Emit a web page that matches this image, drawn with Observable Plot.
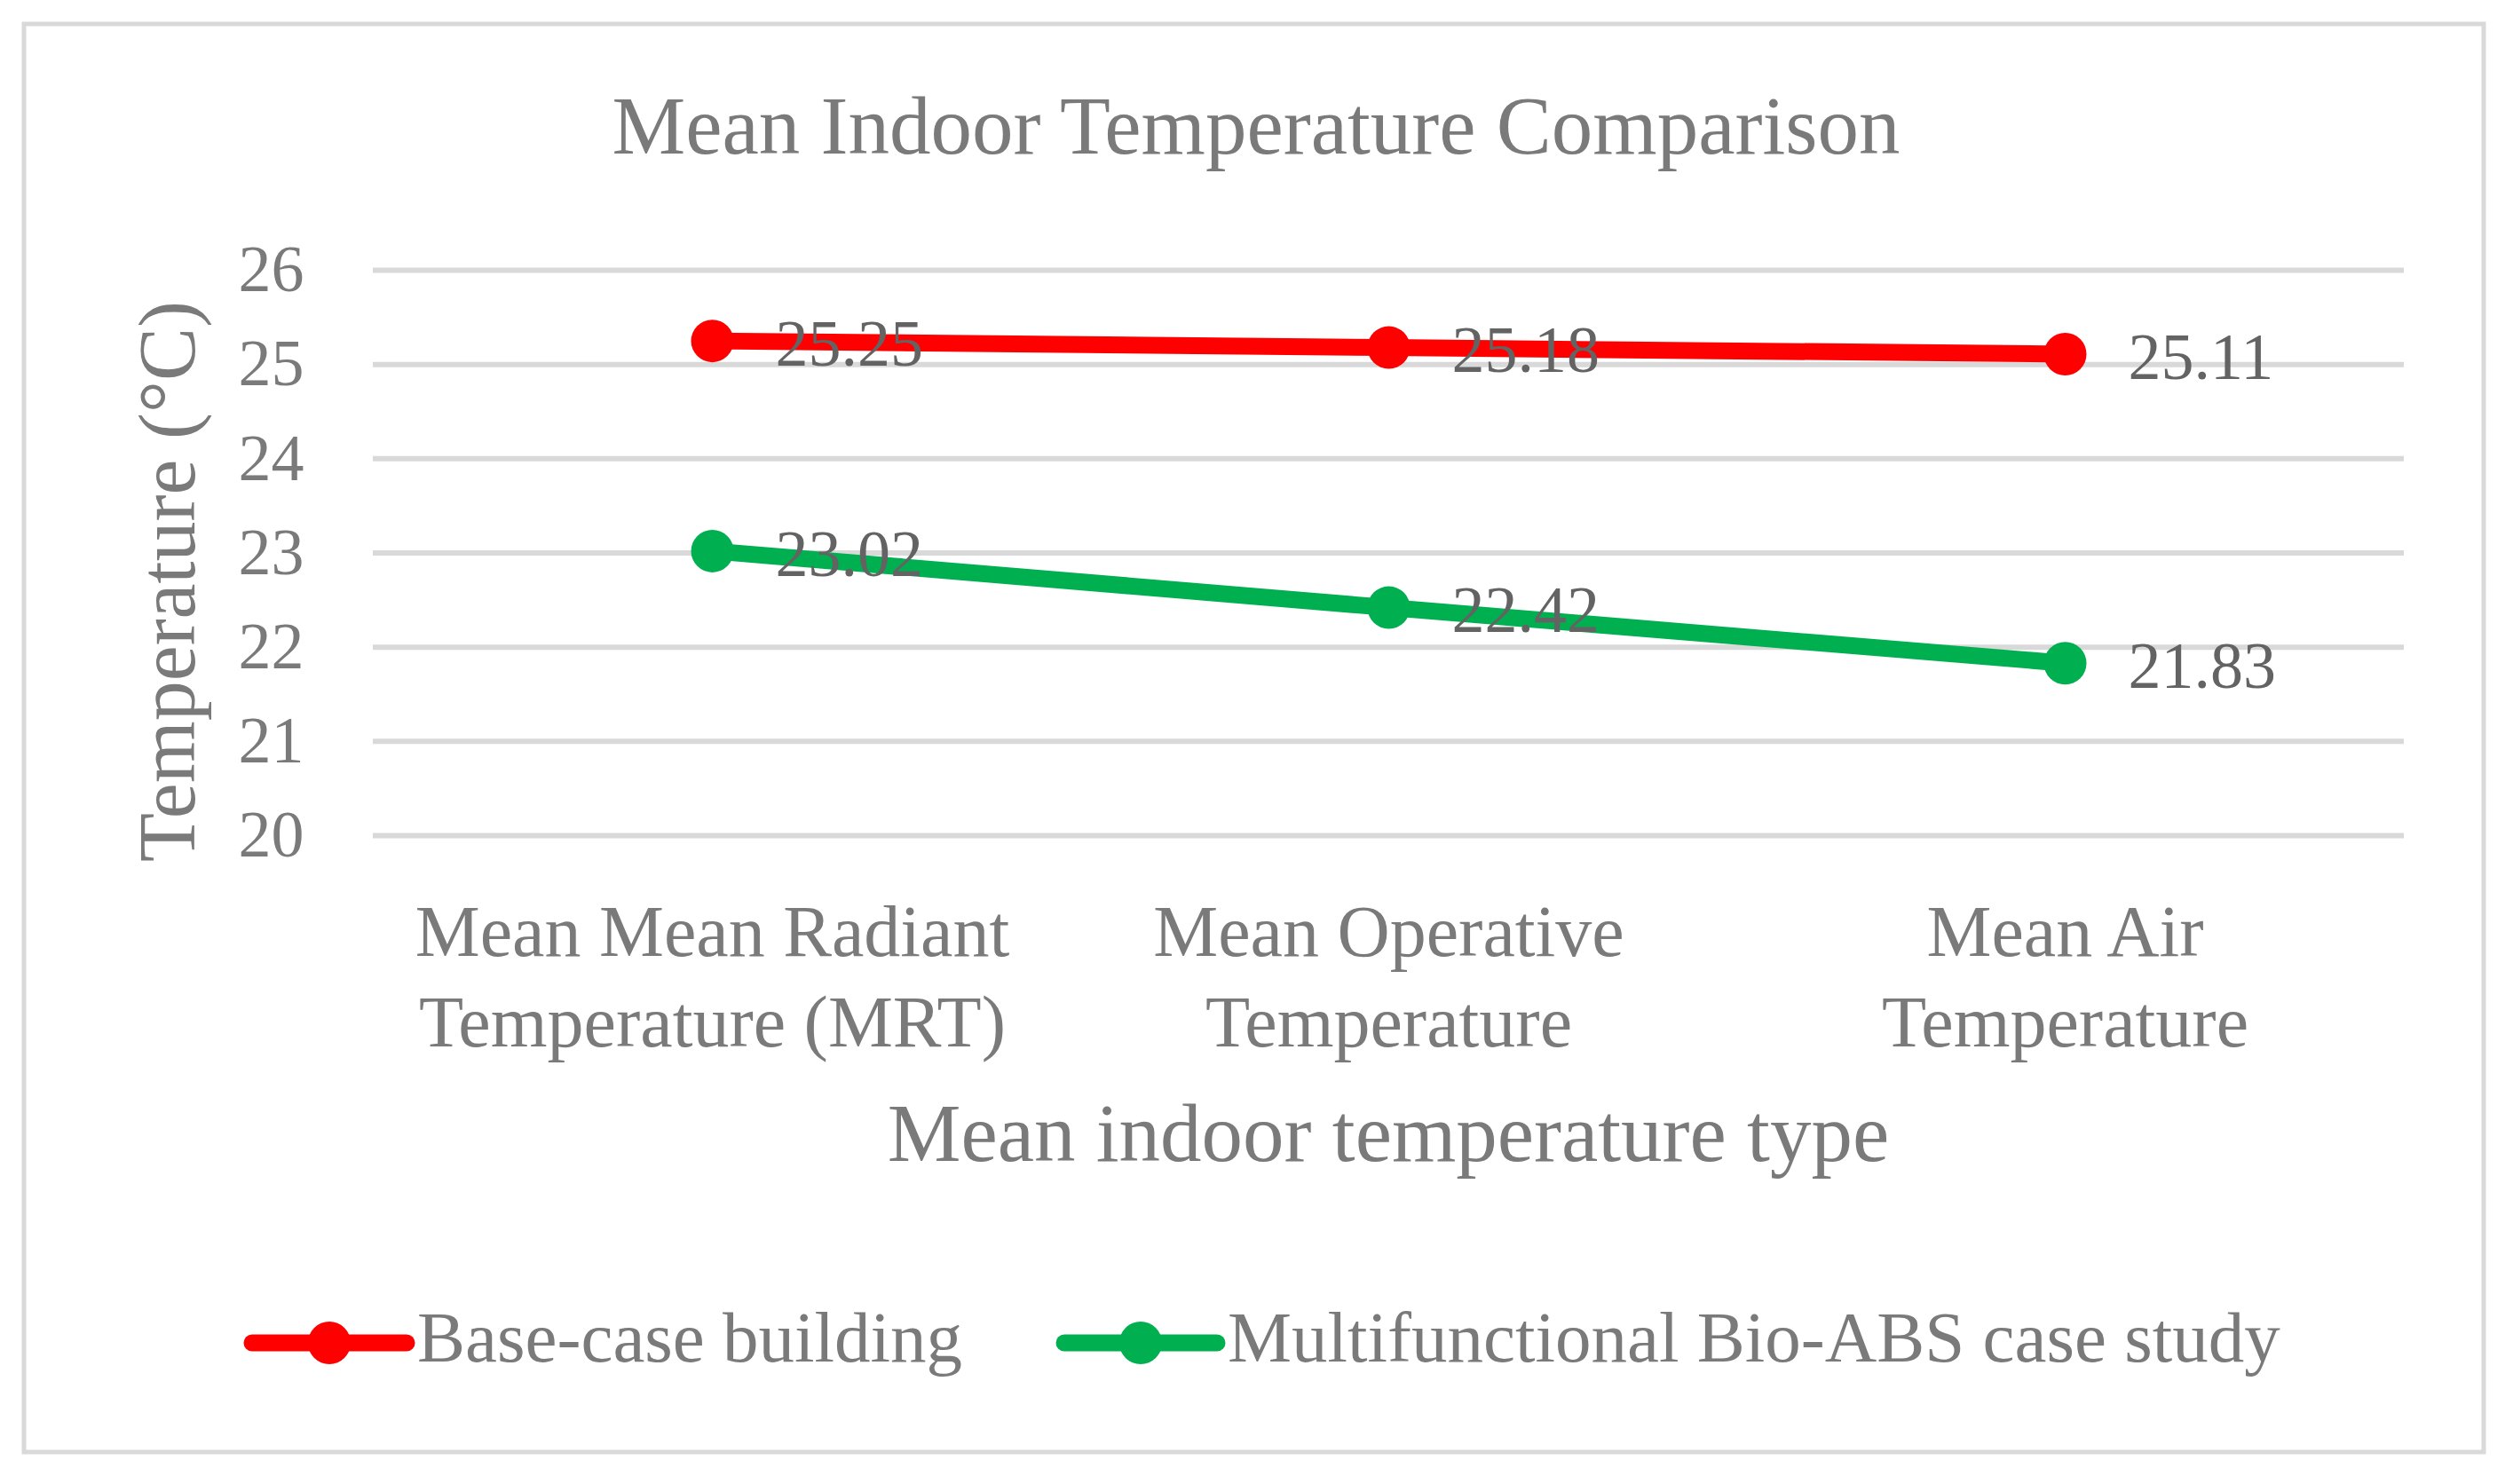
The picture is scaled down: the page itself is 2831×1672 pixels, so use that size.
<!DOCTYPE html>
<html>
<head>
<meta charset="utf-8">
<script src="https://cdn.jsdelivr.net/npm/d3@7"></script>
<script src="https://cdn.jsdelivr.net/npm/@observablehq/plot@0.6"></script>
<style>
  html, body { margin: 0; padding: 0; background: #fff; }
  #chart svg { display: block; }
</style>
</head>
<body>
<div id="chart"></div>
<script>
const categories = [
  "Mean Mean Radiant\nTemperature (MRT)",
  "Mean Operative\nTemperature",
  "Mean Air\nTemperature"
];
const seriesNames = ["Base-case building", "Multifunctional Bio-ABS case study"];
const baseCase = [25.25, 25.18, 25.11];
const bioABS = [23.02, 22.42, 21.83];
const seriesColors = ["#ff0000", "#00b050"];
const yTicks = [20, 21, 22, 23, 24, 25, 26];
const titleText = "Mean Indoor Temperature Comparison";
const xTitle = "Mean indoor temperature type";
const yTitle = "Temperature (°C)";

const data = [];
categories.forEach((c, i) => {
  data.push({cat: c, series: seriesNames[0], value: baseCase[i]});
  data.push({cat: c, series: seriesNames[1], value: bioABS[i]});
});

const W = 2831, H = 1672;
const font = "'Liberation Serif', 'Times New Roman', serif";
const gray = "#7a7a7a";

const chart = Plot.plot({
  width: W,
  height: H,
  marginLeft: 420,
  marginRight: 123,
  marginTop: 304,
  marginBottom: 731,
  style: {fontFamily: font, background: "#fff"},
  x: {type: "point", domain: categories, padding: 0.5},
  y: {domain: [20, 26]},
  color: {domain: seriesNames, range: seriesColors},
  marks: [
    Plot.gridY(yTicks, {stroke: "#d9d9d9", strokeWidth: 6, strokeOpacity: 1}),
    Plot.line(data, {x: "cat", y: "value", z: "series", stroke: "series", strokeWidth: 19, strokeLinecap: "butt"}),
    Plot.dot(data, {x: "cat", y: "value", fill: "series", r: 24, stroke: null}),
    Plot.text(data, {x: "cat", y: "value", text: d => d.value.toFixed(2), textAnchor: "start", dx: 71, dy: 4, fontSize: 74, fill: "#636363"}),
    Plot.axisY(yTicks, {tickSize: 0, tickPadding: 78, fontSize: 74, color: gray, label: null, tickFormat: d => String(d)}),
    Plot.axisX({tickSize: 0, tickPadding: 63, fontSize: 82, lineHeight: 1.244, color: gray, label: null})
  ]
});

const svg = d3.select(chart);
// outer chart border
svg.insert("rect", ":first-child")
  .attr("x", 27).attr("y", 27).attr("width", 2771).attr("height", 1609)
  .attr("fill", "#fff").attr("stroke", "#d9d9d9").attr("stroke-width", 5);

svg.append("text").text(titleText)
  .attr("x", 1415).attr("y", 173).attr("text-anchor", "middle")
  .attr("font-size", 93).attr("fill", gray).attr("font-family", font);

svg.append("text").text(xTitle)
  .attr("x", 1564).attr("y", 1308).attr("text-anchor", "middle")
  .attr("font-size", 93).attr("fill", gray).attr("font-family", font);

svg.append("text").text(yTitle)
  .attr("transform", "translate(219,655) rotate(-90)").attr("text-anchor", "middle")
  .attr("font-size", 90).attr("fill", gray).attr("font-family", font);

// legend
const legendItems = [
  {x1: 284, x2: 458, tx: 470},
  {x1: 1199, x2: 1371, tx: 1383}
];
legendItems.forEach((it, i) => {
  const g = svg.append("g");
  g.append("line").attr("x1", it.x1).attr("x2", it.x2).attr("y1", 1513).attr("y2", 1513)
    .attr("stroke", seriesColors[i]).attr("stroke-width", 19).attr("stroke-linecap", "round");
  g.append("circle").attr("cx", (it.x1 + it.x2) / 2).attr("cy", 1513).attr("r", 24).attr("fill", seriesColors[i]);
  g.append("text").text(seriesNames[i]).attr("x", it.tx).attr("y", 1534).attr("text-anchor", "start")
    .attr("font-size", 81).attr("fill", gray).attr("font-family", font);
});

document.getElementById("chart").appendChild(chart);
</script>
</body>
</html>
